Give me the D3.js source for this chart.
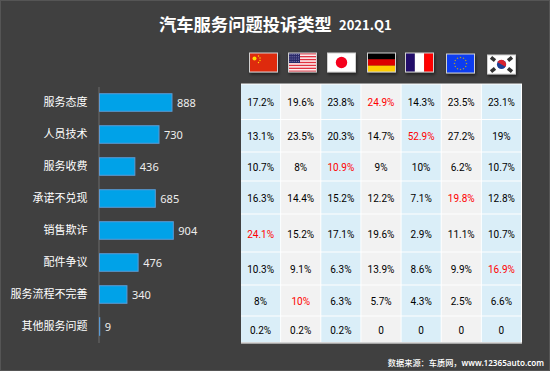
<!DOCTYPE html>
<html>
<head>
<meta charset="utf-8">
<script src="https://cdn.jsdelivr.net/npm/d3@7"></script>
<style>
	html, body { margin: 0; padding: 0; background: #404040; }
	svg { display: block; }
	text { font-family: "Noto Sans CJK SC", "Noto Sans", sans-serif; }
</style>
</head>
<body>
<script>
var categories = ['服务态度', '人员技术', '服务收费', '承诺不兑现', '销售欺诈', '配件争议', '服务流程不完善', '其他服务问题'];
var counts = [888, 730, 436, 685, 904, 476, 340, 9];
var countries = ['cn', 'us', 'jp', 'de', 'fr', 'eu', 'kr'];

var shareCn = ['17.2%', '13.1%', '10.7%', '16.3%', '24.1%', '10.3%', '8%', '0.2%'];
var shareUs = ['19.6%', '23.5%', '8%', '14.4%', '15.2%', '9.1%', '10%', '0.2%'];
var shareJp = ['23.8%', '20.3%', '10.9%', '15.2%', '17.1%', '6.3%', '6.3%', '0.2%'];
var shareDe = ['24.9%', '14.7%', '9%', '12.2%', '19.6%', '13.9%', '5.7%', '0'];
var shareFr = ['14.3%', '52.9%', '10%', '7.1%', '2.9%', '8.6%', '4.3%', '0'];
var shareEu = ['23.5%', '27.2%', '6.2%', '19.8%', '11.1%', '9.9%', '2.5%', '0'];
var shareKr = ['23.1%', '19%', '10.7%', '12.8%', '10.7%', '16.9%', '6.6%', '0'];
var shares = [shareCn, shareUs, shareJp, shareDe, shareFr, shareEu, shareKr];

// which country is printed in red on each row, the last row has none
var redCountry = ['de', 'fr', 'jp', 'eu', 'cn', 'kr', 'us', null];

var width = 550;
var height = 371;

var svg = d3.select('body').append('svg')
	.attr('width', width)
	.attr('height', height);

var defs = svg.append('defs');
defs.append('filter')
	.attr('id', 'flagShadow')
	.attr('x', '-20%').attr('y', '-20%').attr('width', '140%').attr('height', '150%')
	.append('feDropShadow')
	.attr('dx', 1).attr('dy', 2).attr('stdDeviation', 1.5)
	.attr('flood-color', '#000').attr('flood-opacity', 0.5);

// frame
svg.append('rect')
	.attr('x', 0.5).attr('y', 0.5)
	.attr('width', width - 1).attr('height', height - 1)
	.attr('fill', '#404040')
	.attr('stroke', '#555');

svg.append('text')
	.attr('x', 159).attr('y', 31)
	.attr('fill', '#fff').attr('font-size', 17.3).attr('font-weight', 700)
	.text('汽车服务问题投诉类型');

svg.append('text')
	.attr('x', 339).attr('y', 30)
	.attr('fill', '#fff').attr('font-size', 13).attr('font-weight', 700)
	.text('2021.Q1');

var footer = svg.append('text')
	.attr('x', 544).attr('y', 366)
	.attr('text-anchor', 'end')
	.attr('fill', '#fff').attr('font-size', 8.2).attr('font-weight', 500);
footer.append('tspan').text('数据来源：车质网，');
footer.append('tspan')
	.style('font-family', '"Noto Sans", sans-serif')
	.attr('font-size', 8.1)
	.attr('font-weight', 600)
	.text('www.12365auto.com');

// bars
var xScale = d3.scaleLinear()
	.domain([0, 1000])
	.range([99, 181.2]);

var yScale = d3.scaleBand()
	.domain(categories)
	.range([86.5, 342.5])
	.paddingInner(0.42)
	.paddingOuter(0.21);

var leftAxis = d3.axisLeft(yScale).tickSize(0).tickPadding(11);

var axisG = svg.append('g')
	.attr('transform', 'translate(98.5,0)')
	.call(leftAxis);

axisG.select('.domain').attr('stroke', '#6a6a6a');
axisG.selectAll('text')
	.attr('fill', '#fff')
	.attr('font-size', 11)
	.style('font-family', '"Noto Sans CJK SC", sans-serif');

svg.append('g').selectAll('rect')
	.data(categories).enter()
	.append('rect')
	.attr('x', xScale(0) + 0.5)
	.attr('y', function(d) { return yScale(d) + 0.5; })
	.attr('width', function(d, i) { return xScale(counts[i]) - xScale(0) - 0.5; })
	.attr('height', yScale.bandwidth() - 1)
	.attr('fill', '#00a2e8')
	.attr('stroke', '#5b9bd5');

svg.append('g').selectAll('text')
	.data(categories).enter()
	.append('text')
	.attr('x', function(d, i) { return xScale(counts[i]) + 5; })
	.attr('y', function(d) { return yScale(d) + yScale.bandwidth() / 2 + 4; })
	.attr('fill', '#eee')
	.attr('font-size', 11)
	.style('font-family', '"Noto Sans", sans-serif')
	.text(function(d, i) { return counts[i]; });

// table
var colScale = d3.scaleBand()
	.domain(countries)
	.range([241, 522]);

// rows in the picture are not evenly tall
var rowEdges = [84, 119.5, 152, 181, 214, 252, 285, 316, 342.5];

var table = svg.append('g');

table.append('rect')
	.attr('x', 241).attr('y', 83)
	.attr('width', 281).attr('height', 260.5)
	.attr('fill', '#fff');

table.append('rect').attr('x', 241).attr('y', 83).attr('width', 281).attr('height', 1).attr('fill', '#999');
table.append('rect').attr('x', 241).attr('y', 342.5).attr('width', 281).attr('height', 1).attr('fill', '#aaa');

countries.forEach(function(country, c) {
	var column = table.append('g');

	column.selectAll('rect')
		.data(categories).enter()
		.append('rect')
		.attr('x', colScale(country))
		.attr('y', function(d, r) { return rowEdges[r] + 0.5; })
		.attr('width', colScale.bandwidth() - 1)
		.attr('height', function(d, r) { return rowEdges[r + 1] - rowEdges[r] - 1; })
		.attr('fill', c % 2 ? '#f2f2f2' : '#daeef8');

	column.selectAll('text')
		.data(shares[c]).enter()
		.append('text')
		.attr('x', colScale(country) + colScale.bandwidth() / 2 - 0.5)
		.attr('y', function(d, r) { return (rowEdges[r] + rowEdges[r + 1]) / 2 + 4.5; })
		.attr('text-anchor', 'middle')
		.attr('font-size', 10)
		.attr('fill', function(d, r) { return redCountry[r] === country ? '#ff0000' : '#000'; })
		.style('font-family', 'Roboto, sans-serif')
		.text(function(d) { return d; });
});

// flags
var flagW = 28;
var flagH = 19;
var flagTop = { cn: 53, us: 53, jp: 53, de: 53, fr: 53, eu: 54, kr: 55 };
var flagLeft = { cn: 249.5, us: 288.5, jp: 327.5, de: 367.5, fr: 405.5, eu: 446.5, kr: 487.5 };

var flagDrawers = {
	cn: function(g) {
		g.append('rect').attr('width', flagW).attr('height', flagH).attr('fill', '#de2910');
		g.append('circle').attr('cx', 5).attr('cy', 5.5).attr('r', 2).attr('fill', '#ffde00');
		[[9, 3], [10.5, 5], [10.5, 7.5], [9, 9.5]].forEach(function(p) {
			g.append('circle').attr('cx', p[0]).attr('cy', p[1]).attr('r', 0.7).attr('fill', '#ffde00');
		});
	},
	us: function(g) {
		g.append('rect').attr('width', flagW).attr('height', flagH).attr('fill', '#fff');
		d3.range(0, 7).forEach(function(i) {
			g.append('rect')
				.attr('y', i * flagH / 6.5)
				.attr('width', flagW)
				.attr('height', flagH / 13)
				.attr('fill', '#e0313f');
		});
		g.append('rect').attr('width', 11.5).attr('height', 10).attr('fill', '#2b2a6b');
		d3.range(0, 4).forEach(function(row) {
			d3.range(0, 5).forEach(function(col) {
				g.append('circle')
					.attr('cx', 1.5 + col * 2.1).attr('cy', 1.5 + row * 2.3)
					.attr('r', 0.5).attr('fill', '#9a9ac4');
			});
		});
	},
	jp: function(g) {
		g.append('rect').attr('width', flagW).attr('height', flagH).attr('fill', '#fff');
		g.append('circle').attr('cx', flagW / 2).attr('cy', flagH / 2).attr('r', 5.7).attr('fill', '#f5001e');
	},
	de: function(g) {
		['#000', '#dd0000', '#ffce00'].forEach(function(color, i) {
			g.append('rect').attr('y', i * flagH / 3).attr('width', flagW).attr('height', flagH / 3).attr('fill', color);
		});
	},
	fr: function(g) {
		['#21106b', '#fff', '#ff0000'].forEach(function(color, i) {
			g.append('rect').attr('x', i * flagW / 3).attr('width', flagW / 3).attr('height', flagH).attr('fill', color);
		});
	},
	eu: function(g) {
		g.append('rect').attr('width', flagW).attr('height', flagH).attr('fill', '#0a3cf0');
		d3.range(0, 12).forEach(function(i) {
			var a = i * Math.PI / 6;
			g.append('circle')
				.attr('cx', flagW / 2 + 6 * Math.cos(a))
				.attr('cy', flagH / 2 + 6 * Math.sin(a))
				.attr('r', 0.8).attr('fill', '#a89a3a');
		});
	},
	kr: function(g) {
		g.append('rect').attr('width', flagW).attr('height', flagH).attr('fill', '#fff');
		var cx = flagW / 2;
		var cy = flagH / 2;
		g.append('circle').attr('cx', cx).attr('cy', cy).attr('r', 4.6).attr('fill', '#1c3f94');
		g.append('path')
			.attr('d', d3.arc()({ innerRadius: 0, outerRadius: 4.6, startAngle: -Math.PI / 2 + 0.5, endAngle: Math.PI / 2 + 0.5 }))
			.attr('transform', 'translate(' + cx + ',' + cy + ')')
			.attr('fill', '#d8222f');
		[[5.5, 4, 40], [22.5, 4, -40], [5.5, 15, -40], [22.5, 15, 40]].forEach(function(p) {
			g.append('rect')
				.attr('x', -2.6).attr('y', -1.8)
				.attr('width', 5.2).attr('height', 3.6)
				.attr('transform', 'translate(' + p[0] + ',' + p[1] + ') rotate(' + p[2] + ')')
				.attr('fill', '#333');
		});
	}
};

countries.forEach(function(country) {
	var g = svg.append('g')
		.attr('transform', 'translate(' + flagLeft[country] + ',' + flagTop[country] + ')')
		.attr('filter', 'url(#flagShadow)');
	flagDrawers[country](g);
	g.append('rect')
		.attr('width', flagW).attr('height', flagH)
		.attr('fill', 'none')
		.attr('stroke', '#d0d0d0');
});
</script>
</body>
</html>
